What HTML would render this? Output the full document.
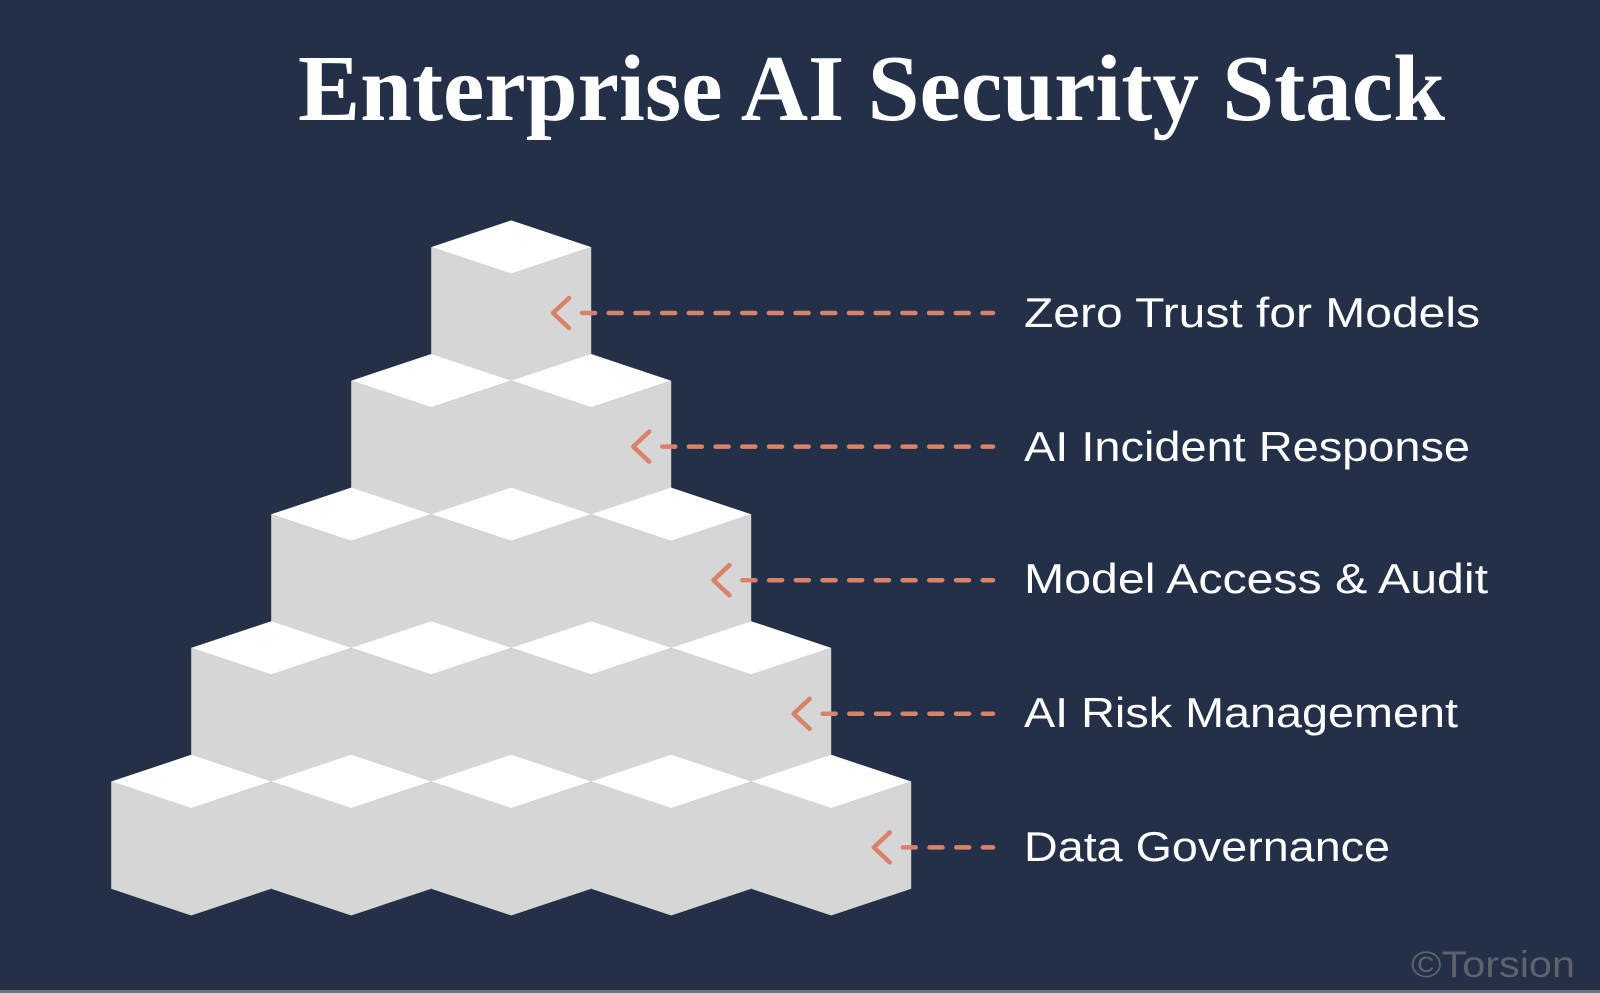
<!DOCTYPE html>
<html><head><meta charset="utf-8"><style>
html,body{margin:0;padding:0;background:#233047;}
svg{display:block}
</style></head><body>
<svg width="1600" height="993" viewBox="0 0 1600 993" xmlns="http://www.w3.org/2000/svg">
<rect width="1600" height="993" fill="#233047"/>
<rect y="990" width="1600" height="3" fill="#6b7380"/>
<text x="298" y="120" font-family="Liberation Serif, serif" font-weight="bold" font-size="94" fill="#ffffff" textLength="1147" lengthAdjust="spacingAndGlyphs">Enterprise AI Security Stack</text>
<g id="cubes"></g>
<g stroke="#d9826a" stroke-width="4.5" stroke-linecap="round" stroke-linejoin="round" fill="none">
<g id="arrows"></g>
</g>
<g font-family="Liberation Sans, sans-serif" font-size="42" fill="#ffffff">
<text x="1024" y="327" textLength="456" lengthAdjust="spacingAndGlyphs">Zero Trust for Models</text>
<text x="1024" y="461" textLength="446" lengthAdjust="spacingAndGlyphs">AI Incident Response</text>
<text x="1024" y="593" textLength="464" lengthAdjust="spacingAndGlyphs">Model Access &amp; Audit</text>
<text x="1024" y="727" textLength="434" lengthAdjust="spacingAndGlyphs">AI Risk Management</text>
<text x="1024" y="861" textLength="366" lengthAdjust="spacingAndGlyphs">Data Governance</text>
</g>
<text x="1411" y="977" font-family="Liberation Sans, sans-serif" font-size="37" fill="#5d636b" textLength="164" lengthAdjust="spacingAndGlyphs">©Torsion</text>
<script>
var ns="http://www.w3.org/2000/svg",g=document.getElementById('cubes'),a=document.getElementById('arrows');
var w=80,h=26.7,s=107.3;
function poly(pts,fill,sw){var p=document.createElementNS(ns,'polygon');p.setAttribute('points',pts.map(function(q){return q[0].toFixed(1)+','+q[1].toFixed(1)}).join(' '));p.setAttribute('fill',fill);if(sw){p.setAttribute('stroke',fill);p.setAttribute('stroke-width',sw);p.setAttribute('stroke-linejoin','miter');}g.appendChild(p);}
for(var r=0;r<5;r++){var y=220.4+r*133.6;
 for(var i=0;i<=r;i++){var cx=511.2-r*80+i*160;
  var sw=(i>0)?1.2:0;
  poly([[cx-w,y+h],[cx,y+2*h],[cx+w,y+h],[cx+w,y+h+s],[cx,y+2*h+s],[cx-w,y+h+s]],'#d6d6d6',0);
  if(i>0){var l=document.createElementNS(ns,'line');l.setAttribute('x1',cx-w);l.setAttribute('x2',cx-w);l.setAttribute('y1',y+h+1);l.setAttribute('y2',y+h+s-1);l.setAttribute('stroke','#d6d6d6');l.setAttribute('stroke-width','2');g.appendChild(l);}
  poly([[cx,y],[cx+w,y+h],[cx,y+2*h],[cx-w,y+h]],'#ffffff',0);
 }
 var ay=313+r*133.6, tx=553+r*80.2;
 var p=document.createElementNS(ns,'path');
 p.setAttribute('d','M'+(tx+16)+' '+(ay-15)+' L'+tx+' '+ay+' L'+(tx+16)+' '+(ay+15));
 a.appendChild(p);
 var l2=document.createElementNS(ns,'line');
 l2.setAttribute('x1',tx+29);l2.setAttribute('y1',ay);l2.setAttribute('x2',993);l2.setAttribute('y2',ay);
 l2.setAttribute('stroke-dasharray','13 13.7');
 a.appendChild(l2);
}
</script>
</svg>
</body></html>
